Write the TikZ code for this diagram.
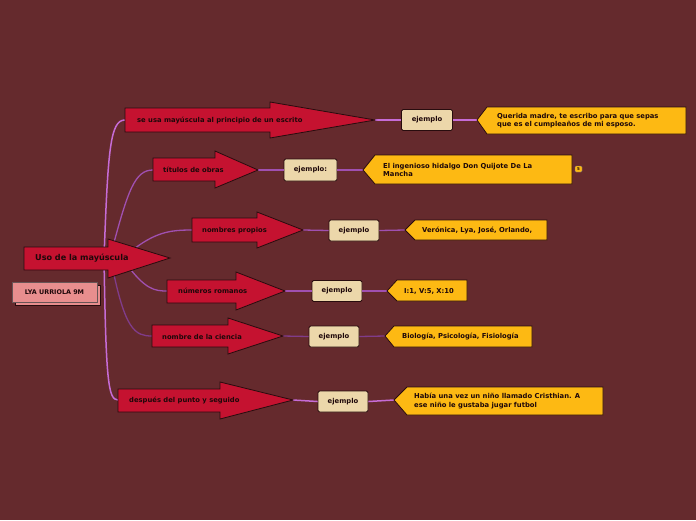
\documentclass[tikz,border=0pt]{standalone}
\usepackage{fontspec}
\setmainfont{DejaVu Sans}
\definecolor{bg}{RGB}{101,42,45}
\definecolor{crim}{RGB}{197,18,48}
\definecolor{edge}{RGB}{40,12,14}
\definecolor{ink}{RGB}{30,8,10}
\definecolor{beige}{RGB}{236,215,170}
\definecolor{gold}{RGB}{253,185,19}
\definecolor{pinkb}{RGB}{232,142,142}
\definecolor{vio}{RGB}{198,108,214}
\definecolor{pur}{RGB}{160,80,176}
\definecolor{purd}{RGB}{128,60,138}
\tikzset{
  arr/.style={fill=crim, draw=edge, line width=0.8pt, line join=miter},
  lab/.style={font=\bfseries\fontsize{6.8}{8.6}\selectfont, text=ink, anchor=west, inner sep=0pt, align=left},
  ex/.style={fill=beige, draw=edge, rounded corners=1.5pt, line width=0.8pt, minimum width=50pt, minimum height=21pt, inner sep=0pt, font=\bfseries\fontsize{6.8}{8}\selectfont, text=ink},
  call/.style={fill=gold, draw=edge, line width=0.8pt, line join=miter},
  link/.style={line width=1.5pt, draw=vio},
  linkb/.style={line width=1.3pt, draw=pur},
  linkc/.style={line width=1.3pt, draw=purd},
}
\begin{document}
\begin{tikzpicture}[x=1pt,y=-1pt]
\fill[bg] (0,0) rectangle (696,520);
\useasboundingbox (0,0) rectangle (696,520);

% coordinates
\coordinate (root) at (104,258);
\coordinate (r2) at (112,250);
\coordinate (r3) at (130,252);
\coordinate (r4) at (125,262);
\coordinate (r5) at (112,265);
\coordinate (a1l) at (125,120); \coordinate (a1t) at (375,120);
\coordinate (a2l) at (153,170); \coordinate (a2t) at (258,170);
\coordinate (a3l) at (192,230); \coordinate (a3t) at (303,230);
\coordinate (a4l) at (167,291); \coordinate (a4t) at (285,291);
\coordinate (a5l) at (152,336); \coordinate (a5t) at (283,336);
\coordinate (a6l) at (118,400); \coordinate (a6t) at (293,400);
\coordinate (c1) at (477,120);
\coordinate (c2) at (363,170);
\coordinate (c3) at (405,230);
\coordinate (c4) at (387,291);
\coordinate (c5) at (385,336);
\coordinate (c6) at (394,400);

% ejemplo nodes
\node[ex, minimum width=51pt] (e1) at (427,120) {ejemplo};
\node[ex, minimum width=53pt, minimum height=22pt] (e2) at (310.5,170) {ejemplo:};
\node[ex] (e3) at (354,230.5) {ejemplo};
\node[ex] (e4) at (337,291) {ejemplo};
\node[ex] (e5) at (334,336.5) {ejemplo};
\node[ex] (e6) at (343,401.5) {ejemplo};

% connectors from root
\draw[link] (root) .. controls (108,150) and (110,120) .. (a1l);
\draw[linkb] (r2) .. controls (128,190) and (135,170) .. (a2l);
\draw[linkb] (r3) .. controls (155,232) and (170,230) .. (a3l);
\draw[linkb] (r4) .. controls (145,290) and (155,291) .. (a4l);
\draw[linkc] (r5) .. controls (125,330) and (135,336) .. (a5l);
\draw[link] (root) .. controls (106,380) and (108,400) .. (a6l);

% connectors to ejemplo and callouts
\draw[link] (a1t) -- (e1.west); \draw[link] (e1.east) -- (c1);
\draw[linkb] (a2t) -- (e2.west); \draw[linkb] (e2.east) -- (c2);
\draw[linkb] (a3t) -- (e3.west); \draw[linkb] (e3.east) -- (c3);
\draw[linkb] (a4t) -- (e4.west); \draw[linkb] (e4.east) -- (c4);
\draw[linkc] (a5t) -- (e5.west); \draw[linkc] (e5.east) -- (c5);
\draw[link] (a6t) -- (e6.west); \draw[link] (e6.east) -- (c6);

% central arrow
\draw[arr] (24,247) -- (108,247) -- (108,239) -- (170,258) -- (108,278) -- (108,270) -- (24,270) -- cycle;
\node[lab, font=\bfseries\fontsize{8.1}{9}\selectfont] (root-t) at (35,258.5) {Uso de la mayúscula};

% branch arrows
\draw[arr] (125,108) -- (270,108) -- (270,102) -- (a1t) -- (270,138) -- (270,132) -- (125,132) -- cycle;
\node[lab] (a1) at (137,120.5) {se usa mayúscula al principio de un escrito};
\draw[arr] (153,158) -- (215,158) -- (215,151) -- (a2t) -- (215,188) -- (215,181) -- (153,181) -- cycle;
\node[lab] (a2) at (163,170) {títulos de obras};
\draw[arr] (192,218) -- (257,218) -- (257,212) -- (a3t) -- (257,248) -- (257,242) -- (192,242) -- cycle;
\node[lab] (a3) at (202,230.5) {nombres propios};
\draw[arr] (167,280) -- (236,280) -- (236,272) -- (a4t) -- (236,310) -- (236,303) -- (167,303) -- cycle;
\node[lab] (a4) at (178,291) {números romanos};
\draw[arr] (152,325) -- (228,325) -- (228,318) -- (a5t) -- (228,354) -- (228,347) -- (152,347) -- cycle;
\node[lab] (a5) at (162,336.5) {nombre de la ciencia};
\draw[arr] (118,389) -- (220,389) -- (220,382) -- (a6t) -- (220,419) -- (220,412) -- (118,412) -- cycle;
\node[lab] (a6) at (129,400.5) {después del punto y seguido};

% callouts
\draw[call] (c1) -- (487,107) -- (686,107) -- (686,134) -- (487,134) -- cycle;
\node[lab] (t1) at (497,120.5) {Querida madre, te escribo para que sepas\\que es el cumpleaños de mi esposo.};
\draw[call] (c2) -- (375,155) -- (572,155) -- (572,184) -- (375,184) -- cycle;
\node[lab] (t2) at (383,170) {El ingenioso hidalgo Don Quijote De La\\Mancha};
\draw[call] (c3) -- (415,220) -- (547,220) -- (547,240) -- (415,240) -- cycle;
\node[lab] (t3) at (422,230.5) {Verónica, Lya, José, Orlando,};
\draw[call] (c4) -- (397,280) -- (467,280) -- (467,301) -- (397,301) -- cycle;
\node[lab] (t4) at (404,291) {I:1, V:5, X:10};
\draw[call] (c5) -- (394,326) -- (532,326) -- (532,347) -- (394,347) -- cycle;
\node[lab] (t5) at (402,336.5) {Biología, Psicología, Fisiología};
\draw[call] (c6) -- (407,387) -- (603,387) -- (603,415) -- (407,415) -- cycle;
\node[lab] (t6) at (414,401) {Había una vez un niño llamado Cristhian. A\\ese niño le gustaba jugar futbol};

% badge
\node[fill=gold, draw=edge!60, line width=0.4pt, rounded corners=1pt, inner sep=0.8pt, minimum width=7pt, minimum height=6pt, font=\bfseries\fontsize{4}{4}\selectfont, text=ink] (badge) at (578.5,169) {5};

% LYA box
\draw[fill=pinkb, draw=edge, line width=0.8pt] (15,285) rectangle (100,305);
\node[fill=pinkb, draw=edge!70, line width=0.6pt, minimum width=85pt, minimum height=20pt, inner sep=0pt, font=\bfseries\fontsize{6.4}{7}\selectfont, text=ink] (lya) at (54.5,292) {LYA URRIOLA 9M};
\end{tikzpicture}
\end{document}
